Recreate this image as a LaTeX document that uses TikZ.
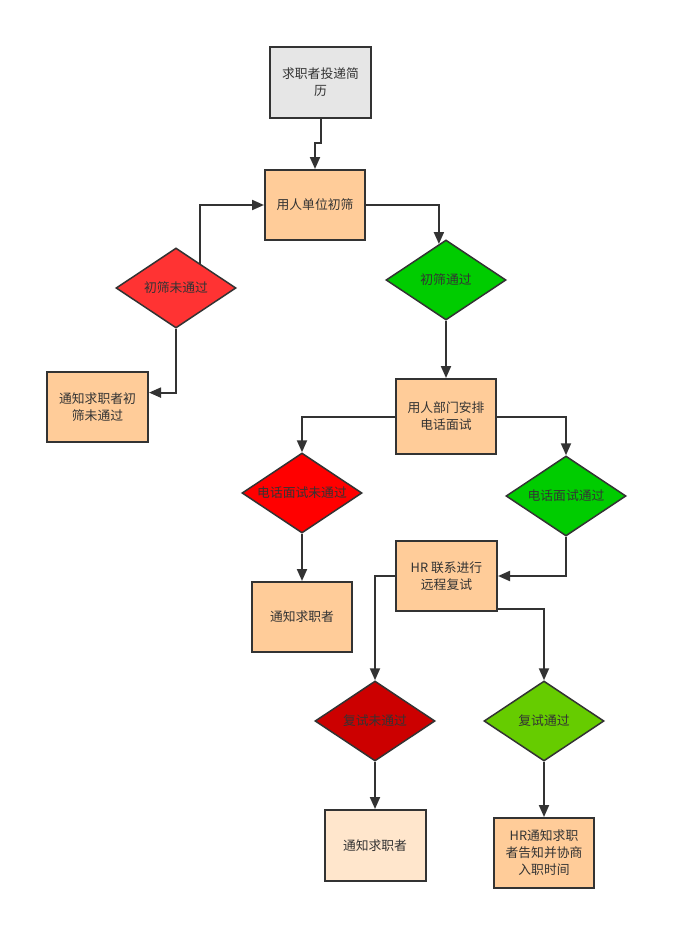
\documentclass[tikz,border=0pt]{standalone}
\usepackage{fontspec}
\newfontfamily\cjk{Noto Sans CJK SC}
\usetikzlibrary{shapes.geometric,arrows.meta,calc}
\definecolor{linec}{HTML}{333333}
\definecolor{txtc}{HTML}{333333}
\definecolor{grayf}{HTML}{E6E6E6}
\definecolor{peach}{HTML}{FFCC99}
\definecolor{lightpeach}{HTML}{FFE6CC}
\definecolor{redA}{HTML}{FF3333}
\definecolor{redB}{HTML}{FF0000}
\definecolor{redC}{HTML}{CC0000}
\definecolor{greenA}{HTML}{00CC00}
\definecolor{greenB}{HTML}{66CC00}
\begin{document}
\begin{tikzpicture}[x=1pt,y=-1pt,
  every node/.style={font=\cjk\fontsize{12.8}{17}\selectfont, text=txtc},
  box/.style={draw=linec, line width=2pt, rectangle, minimum width=100pt, minimum height=70pt, inner sep=0pt, align=center},
  dia/.style={draw=linec, line width=1.5pt, diamond, minimum width=120pt, minimum height=80pt, inner sep=0pt},
  conn/.style={draw=linec, line width=2pt, -{Triangle[length=12pt,width=10pt]}}
]
\useasboundingbox (0,0) rectangle (688,950);
\fill[white] (0,0) rectangle (688,950);

\node[box, fill=grayf, minimum width=101pt, minimum height=71pt] (b1) at (320.5,82.5) {求职者投递简\\历};
\node[box, fill=peach] (b2) at (315,205) {用人单位初筛};
\node[dia, fill=redA] (d1) at (176,288) {};
\node at (d1) {初筛未通过};
\node[dia, fill=greenA] (d2) at (446,280) {};
\node at (d2) {初筛通过};
\node[box, fill=peach, minimum width=101pt] (b3) at (97.5,407) {通知求职者初\\筛未通过};
\node[box, fill=peach, minimum height=75pt] (b4) at (446,416.5) {用人部门安排\\电话面试};
\node[dia, fill=redB] (d3) at (302,493) {};
\node at (d3) {电话面试未通过};
\node[dia, fill=greenA] (d4) at (566,496) {};
\node at (d4) {电话面试通过};
\node[box, fill=peach] (b5) at (302,617) {通知求职者};
\node[box, fill=peach, minimum width=101pt] (b6) at (446.5,576) {HR 联系进行\\远程复试};
\node[dia, fill=redC] (d5) at (375,721) {};
\node at (d5) {复试未通过};
\node[dia, fill=greenB] (d6) at (544,721) {};
\node at (d6) {复试通过};
\node[box, fill=lightpeach, minimum width=101pt, minimum height=71pt] (b7) at (375,845.5) {通知求职者};
\node[box, fill=peach] (b8) at (544,853) {HR通知求职\\者告知并协商\\入职时间};

\coordinate (j1) at ($(b1.south)+(0,24)$);
\coordinate (d2in) at ($(d2.north)!0.117!(d2.west)$);
\draw[conn] (b1.south) -- (j1) -| (b2.north);
\draw[conn] ($(d1.north)!0.4!(d1.east)$) |- (b2.west);
\draw[conn] (b2.east) -| (d2in);
\draw[conn] (d1.south) |- ($(b3.north east)!0.3!(b3.south east)$);
\draw[conn] (d2.south) -- (b4.north);
\draw[conn] (b4.west) -| (d3.north);
\draw[conn] (b4.east) -| (d4.north);
\draw[conn] (d3.south) -- (b5.north);
\draw[conn] (d4.south) |- (b6.east);
\draw[conn] (b6.west) -| (d5.north);
\draw[conn] ($(b6.north east)!0.96!(b6.south east)$) -| (d6.north);
\draw[conn] (d5.south) -- (b7.north);
\draw[conn] (d6.south) -- (b8.north);
\end{tikzpicture}
\end{document}
